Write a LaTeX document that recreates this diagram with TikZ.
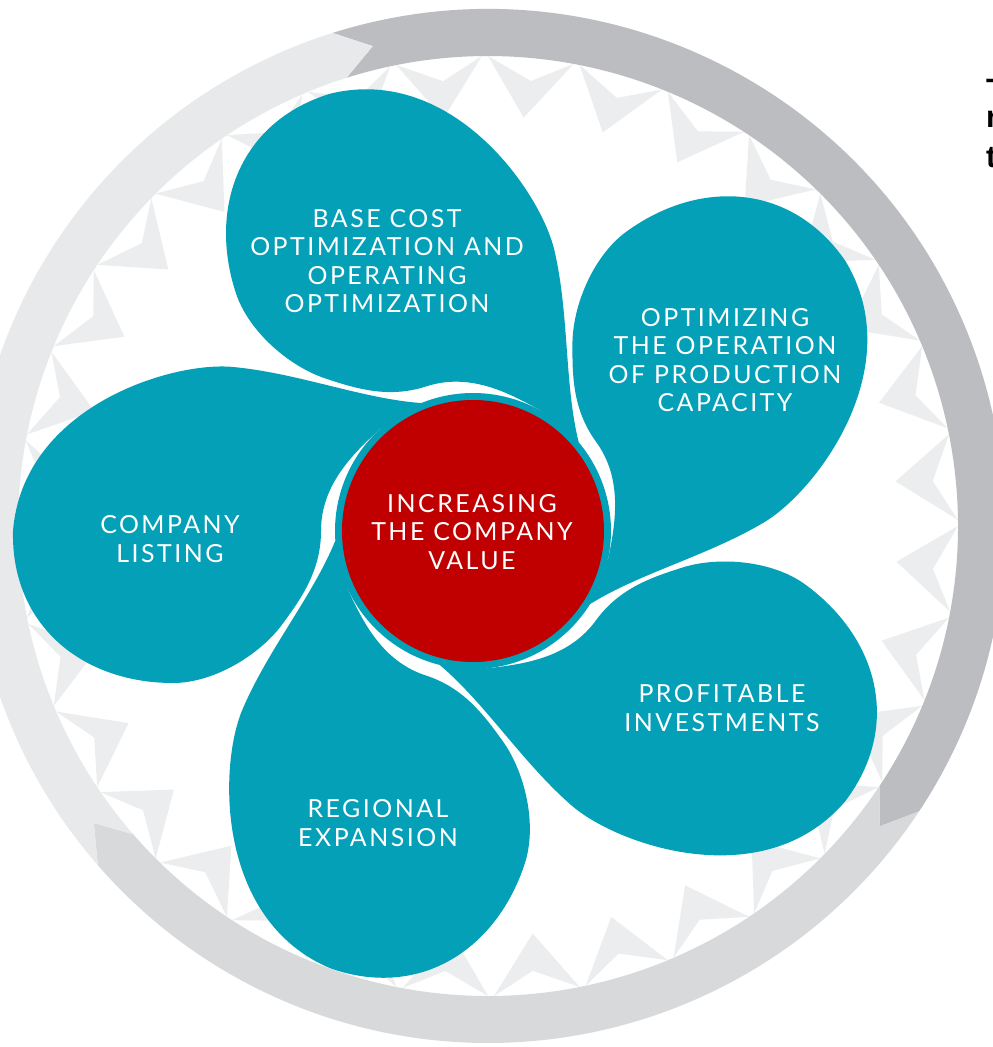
\documentclass[tikz,border=0pt]{standalone}
\usepackage{fontspec}
\newfontfamily\petalfont[LetterSpace=10]{Lato}
\newfontfamily\edgefont{Liberation Sans}
\definecolor{petalteal}{RGB}{3,160,184}
\definecolor{hubred}{RGB}{192,0,0}
\definecolor{ringdark}{RGB}{188,189,192}
\definecolor{ringmid}{RGB}{216,217,219}
\definecolor{ringlight}{RGB}{232,233,234}
\definecolor{pattgray}{RGB}{236,237,238}
\begin{document}
\begin{tikzpicture}[x=1bp,y=1bp,
  petalfill/.style={fill=petalteal},
  petaltext/.style={text=white, align=center, inner sep=0pt,
    font=\petalfont\fontsize{25}{28.5}\selectfont},
  edgetext/.style={text=black, anchor=base west, inner sep=0pt,
    font=\edgefont\bfseries\fontsize{31}{35}\selectfont}]
\useasboundingbox (-473,-516) rectangle (520,531);
\clip (-473,-516) rectangle (520,531);
\fill[white] (-473,-516) rectangle (520,531);

% background chevron pattern and outer ring of arrows
\begin{scope}[shift={(15,5)}]
  \foreach \k in {0,...,31}{
    \pgfmathsetmacro\a{\k*360/32}
    \fill[pattgray] (\a:470) -- (\a-5:410) -- (\a-10.5:470) -- (\a-5.5:447) -- cycle;
  }
  \fill[ringdark] (107.5:517) arc[start angle=107.5,end angle=-33.5,radius=517]
    -- (-37.5:493.5) -- (-33.5:470) arc[start angle=-33.5,end angle=107.5,radius=470]
    -- (103.5:493.5) -- cycle;
  \fill[ringmid] (-33.5:517) arc[start angle=-33.5,end angle=-139,radius=517]
    -- (-143:493.5) -- (-139:470) arc[start angle=-139,end angle=-33.5,radius=470]
    -- (-37.5:493.5) -- cycle;
  \fill[ringlight] (-139:517) arc[start angle=-139,end angle=-252.5,radius=517]
    -- (-256.5:493.5) -- (-252.5:470) arc[start angle=-252.5,end angle=-139,radius=470]
    -- (-143:493.5) -- cycle;
\end{scope}

% petals (pinwheel)
\foreach \t in {180,108,36,-36,-108}{
  \begin{scope}[rotate=\t]
    \fill[petalfill] (-120:138) arc[start angle=-120,end angle=-68,radius=138]
      .. controls (110,-132) and (175,-158) .. (240,-164)
      .. controls (300,-170) and (450,-125) .. (460,0)
      .. controls (462,95) and (390,152) .. (300,152)
      .. controls (260,152) and (215,125) .. (192,95)
      .. controls (172,68) and (152,40) .. (152,0)
      .. controls (152,-45) and (122,-75.8) .. (-48:138)
      -- (-48:132) arc[start angle=-48,end angle=-120,radius=132] -- cycle;
  \end{scope}
}

% hub
\fill[petalteal] (0,0) circle[radius=137];
\fill[hubred] (0,0) circle[radius=131];

\node[petaltext] (hub) at (-1,-1) {INCREASING\\THE COMPANY\\VALUE};
\node[petaltext] (p1) at (-86,270) {BASE COST\\OPTIMIZATION AND\\OPERATING\\OPTIMIZATION};
\node[petaltext] (p2) at (252,171) {OPTIMIZING\\THE OPERATION\\OF PRODUCTION\\CAPACITY};
\node[petaltext] (p3) at (249,-177) {PROFITABLE\\INVESTMENTS};
\node[petaltext] (p4) at (-95,-292) {REGIONAL\\EXPANSION};
\node[petaltext] (p5) at (-303,-8) {COMPANY\\LISTING};

\node[edgetext] (e1) at (513,430) {T};
\node[edgetext] (e2) at (513,403) {r};
\node[edgetext] (e3) at (513,363) {t};
\end{tikzpicture}
\end{document}
